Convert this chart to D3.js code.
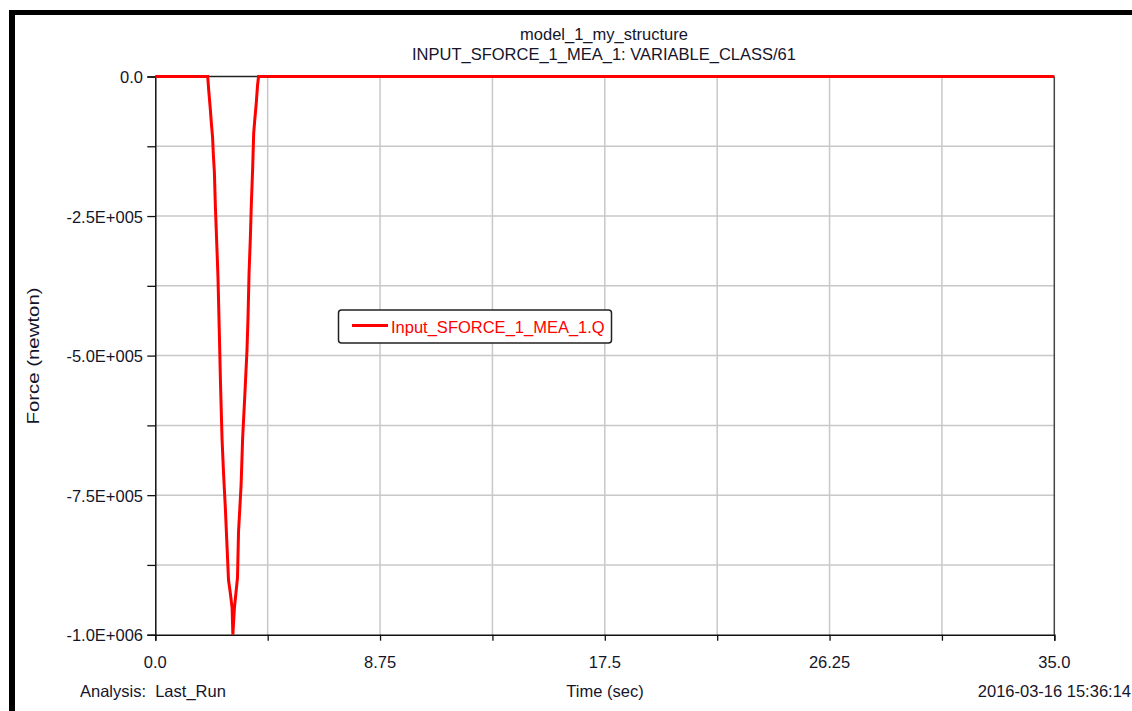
<!DOCTYPE html>
<html>
<head>
<meta charset="utf-8">
<script src="https://cdn.jsdelivr.net/npm/d3@7"></script>
<style>
  html, body { margin: 0; padding: 0; background: #fff; }
  svg { display: block; }
  text { font-family: "Liberation Sans", Arial, sans-serif; fill: #15152a; }
</style>
</head>
<body>
<svg id="chart" width="1132" height="711"></svg>
<script>
// ---- data ----
const titleLines = ["model_1_my_structure", "INPUT_SFORCE_1_MEA_1: VARIABLE_CLASS/61"];
const seriesName = "Input_SFORCE_1_MEA_1.Q";
const time = [0, 2.04, 2.08, 2.14, 2.18, 2.23, 2.26, 2.30, 2.34, 2.39, 2.44, 2.49, 2.54, 2.60, 2.66, 2.73, 2.79, 2.85, 2.92, 2.99, 3.02,
              3.08, 3.14, 3.20, 3.24, 3.34, 3.40, 3.48, 3.57, 3.61, 3.65, 3.70, 3.74, 3.79, 3.83, 3.87, 3.93, 3.98, 4.02, 35];
const force = [0, 0, -25000, -57000, -82000, -109000, -140000, -171000, -234000, -296000, -359000, -454000, -553000, -651000, -714000, -776000, -839000, -902000, -925000, -952000, -1000000,
               -952000, -925000, -898000, -816000, -732000, -648000, -576000, -490000, -431000, -352000, -290000, -227000, -165000, -102000, -79000, -48000, -16000, 0, 0];
const xTickValues = [0, 4.375, 8.75, 13.125, 17.5, 21.875, 26.25, 30.625, 35];
const xTickLabels = ["0.0", "", "8.75", "", "17.5", "", "26.25", "", "35.0"];
const yTickValues = [0, -125000, -250000, -375000, -500000, -625000, -750000, -875000, -1000000];
const yTickLabels = ["0.0", "", "-2.5E+005", "", "-5.0E+005", "", "-7.5E+005", "", "-1.0E+006"];
const xAxisTitle = "Time (sec)";
const yAxisTitle = "Force (newton)";
const footLeft = "Analysis:  Last_Run";
const footRight = "2016-03-16 15:36:14";

// ---- layout ----
const svg = d3.select("#chart");
const L = 155.3, R = 1054.3, T = 76.5, B = 634.7;
const fs = 16.5;

const x = d3.scaleLinear().domain([0, 35]).range([L, R]);
const y = d3.scaleLinear().domain([-1000000, 0]).range([B, T]);

// outer black frame (top and left)
svg.append("rect").attr("x", 9).attr("y", 10).attr("width", 1123).attr("height", 5).attr("fill", "#000");
svg.append("rect").attr("x", 9).attr("y", 10).attr("width", 6).attr("height", 701).attr("fill", "#000");

// grid
const grid = svg.append("g");
grid.selectAll("line.gx").data(xTickValues.slice(1, -1)).join("line")
  .attr("x1", d => x(d)).attr("x2", d => x(d)).attr("y1", T).attr("y2", B)
  .attr("stroke", "#c8c8c8").attr("stroke-width", 1.5);
grid.selectAll("line.gy").data(yTickValues.slice(1, -1)).join("line")
  .attr("x1", L).attr("x2", R).attr("y1", d => y(d)).attr("y2", d => y(d))
  .attr("stroke", "#c8c8c8").attr("stroke-width", 1.5);

// frame lines
svg.append("line").attr("x1", L).attr("x2", R).attr("y1", T).attr("y2", T).attr("stroke", "#222").attr("stroke-width", 1.3);
svg.append("line").attr("x1", R).attr("x2", R).attr("y1", T).attr("y2", B).attr("stroke", "#444").attr("stroke-width", 1.5);

// axes
const xAxis = d3.axisBottom(x).tickValues(xTickValues).tickSize(6).tickFormat("");
const gx = svg.append("g").attr("transform", `translate(0,${B})`).call(xAxis);
gx.select(".domain").attr("stroke", "#111").attr("stroke-width", 1.5);
gx.selectAll(".tick line").attr("stroke", "#111").attr("stroke-width", 1.3);

const yAxis = d3.axisLeft(y).tickValues(yTickValues).tickSize(8).tickFormat("");
const gy = svg.append("g").attr("transform", `translate(${L},0)`).call(yAxis);
gy.select(".domain").attr("stroke", "#111").attr("stroke-width", 1.5);
gy.selectAll(".tick line").attr("stroke", "#111").attr("stroke-width", 1.3);

// tick labels
svg.append("g").selectAll("text").data(xTickValues).join("text")
  .attr("x", d => x(d)).attr("y", 668).attr("text-anchor", "middle")
  .attr("font-size", fs).text((d, i) => xTickLabels[i]);
svg.append("g").selectAll("text").data(yTickValues).join("text")
  .attr("x", 143).attr("y", d => y(d) + 6.5).attr("text-anchor", "end")
  .attr("font-size", fs).text((d, i) => yTickLabels[i]);

// series
const line = d3.line().x((d, i) => x(time[i])).y(d => y(d));
svg.append("path").datum(force).attr("d", line)
  .attr("fill", "none").attr("stroke", "#ff0000").attr("stroke-width", 3).attr("stroke-linejoin", "miter");

// titles
svg.append("text").attr("x", 604).attr("y", 40).attr("text-anchor", "middle").attr("font-size", fs).text(titleLines[0]);
svg.append("text").attr("x", 604).attr("y", 60).attr("text-anchor", "middle").attr("font-size", fs).text(titleLines[1]);

// axis titles & footers
svg.append("text").attr("x", 605).attr("y", 697).attr("text-anchor", "middle").attr("font-size", fs).text(xAxisTitle);
svg.append("text").attr("transform", "translate(39,356) rotate(-90)").attr("text-anchor", "middle")
  .attr("font-size", 17).attr("textLength", 137).attr("lengthAdjust", "spacingAndGlyphs").text(yAxisTitle);
svg.append("text").attr("x", 80).attr("y", 697).attr("font-size", fs).attr("xml:space", "preserve").style("white-space", "pre").text(footLeft);
svg.append("text").attr("x", 1131).attr("y", 697).attr("text-anchor", "end").attr("font-size", fs).text(footRight);

// legend
const lg = svg.append("g");
lg.append("rect").attr("x", 338.5).attr("y", 310).attr("width", 273).attr("height", 33).attr("rx", 3)
  .attr("fill", "#fff").attr("stroke", "#222").attr("stroke-width", 1.5);
lg.append("line").attr("x1", 352).attr("x2", 388).attr("y1", 325.5).attr("y2", 325.5)
  .attr("stroke", "#ff0000").attr("stroke-width", 3);
lg.append("text").attr("x", 391).attr("y", 333).attr("font-size", fs).style("fill", "#ff0000").text(seriesName);
</script>
</body>
</html>
